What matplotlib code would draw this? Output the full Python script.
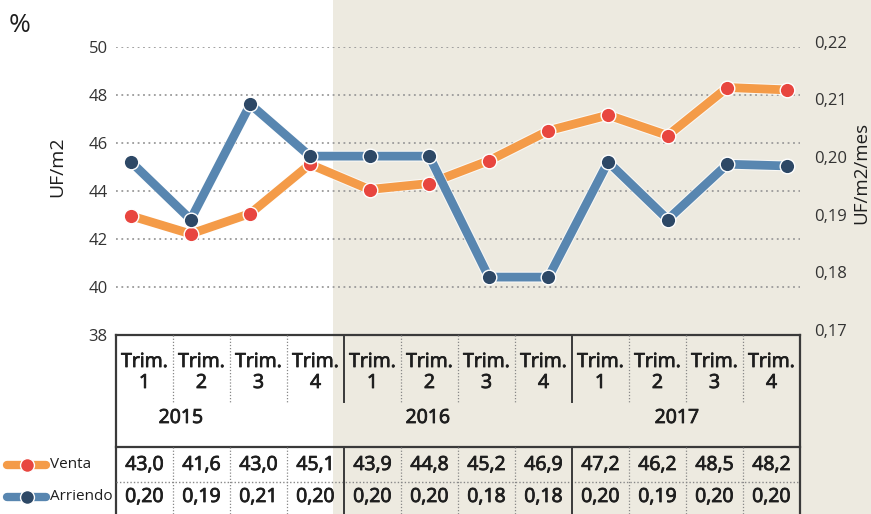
import numpy as np
import matplotlib.pyplot as plt
import matplotlib.patheffects as pe
from matplotlib.patches import Rectangle
from matplotlib.transforms import ScaledTranslation

plt.rcParams['font.family'] = ['Open Sans', 'DejaVu Sans']

# datos
trimestres = ['1', '2', '3', '4'] * 3
anios = ['2015', '2016', '2017']
venta = [42.95, 42.2, 43.05, 45.1, 44.05, 44.3, 45.25, 46.5, 47.15, 46.3, 48.3, 48.2]
arriendo = [0.200, 0.190, 0.210, 0.201, 0.201, 0.201, 0.180, 0.180, 0.200, 0.190, 0.1996, 0.1993]
venta_tabla = [43.0, 41.6, 43.0, 45.1, 43.9, 44.8, 45.2, 46.9, 47.2, 46.2, 48.5, 48.2]
arriendo_tabla = [0.20, 0.19, 0.21, 0.20, 0.20, 0.20, 0.18, 0.18, 0.20, 0.19, 0.20, 0.20]
ticks_izq = [38, 40, 42, 44, 46, 48, 50]
ticks_der = [0.17, 0.18, 0.19, 0.20, 0.21, 0.22]

C_NARANJA = '#F49B48'
C_ROJO = '#E8463F'
C_AZUL = '#5886B0'
C_AZUL_OSC = '#2D4866'
C_FONDO = '#EDEAE0'
C_TXT = '#1e1e1e'

W, H = 871, 514
fig = plt.figure(figsize=(W / 100, H / 100), dpi=100, facecolor='white')

# fondo beige a la derecha
fig.patches.append(Rectangle((333 / W, 0), 1 - 333 / W, 1, transform=fig.transFigure,
                             facecolor=C_FONDO, edgecolor='none', zorder=-1))

def coma(v, d):
    return f'{v:.{d}f}'.replace('.', ',')

# --- tabla y textos en coordenadas de pixel ---
tab = fig.add_axes([0, 0, 1, 1])
tab.set_xlim(0, W)
tab.set_ylim(H, 0)
tab.axis('off')
tab.patch.set_alpha(0)

x0, cw = 116, 57
x1 = x0 + cw * 12
lc = '#3a3a3a'
tab.plot([x0, x1], [335, 335], color=lc, lw=1.6)
tab.plot([x0, x1], [447, 447], color=lc, lw=1.6)
tab.plot([x0, x0], [335, H], color=lc, lw=1.6)
tab.plot([x1, x1], [335, H], color=lc, lw=1.6)
tab.plot([x0, x1], [482, 482], color='#888888', lw=1, ls=(0, (1, 1.5)))
for k in range(1, 12):
    xb = x0 + cw * k
    for ya, yb in [(335, 402), (447, H)]:
        if k % 4 == 0:
            tab.plot([xb, xb], [ya, yb], color=lc, lw=1.4)
        else:
            tab.plot([xb, xb], [ya, yb], color='#888888', lw=0.9, ls=(0, (1, 1.5)))

# texto un poco mas grueso
grueso = [pe.withStroke(linewidth=0.6, foreground=C_TXT)]
fs_tab = 14
for i in range(12):
    xc = x0 + cw * (i + 0.5)
    for yt, s in [(362, 'Trim.'), (383, trimestres[i]),
                  (465, coma(venta_tabla[i], 1)), (497, coma(arriendo_tabla[i], 2))]:
        tab.text(xc, yt, s, ha='center', va='center', fontsize=fs_tab, color=C_TXT,
                 path_effects=grueso)

for a, xa in zip(anios, [181, 428, 677]):
    tab.text(xa, 418, a, ha='center', va='center', fontsize=fs_tab, color=C_TXT, path_effects=grueso)

# leyenda
for yl, lcol, mcol, nombre in [(465, C_NARANJA, C_ROJO, 'Venta'), (497, C_AZUL, C_AZUL_OSC, 'Arriendo')]:
    tab.plot([7, 46], [yl, yl], color=lcol, lw=6, solid_capstyle='round')
    tab.plot([27], [yl], 'o', ms=10, color=mcol, mec='white', mew=1)
    tab.text(50, yl, nombre, ha='left', va='center', fontsize=11, color=C_TXT)

tab.text(20, 25, '%', ha='center', va='center', fontsize=19, color=C_TXT)
tab.text(57, 167, 'UF/m2', ha='center', va='center', rotation=90, fontsize=14, color=C_TXT)
tab.text(861, 173, 'UF/m2/mes', ha='center', va='center', rotation=90, fontsize=13.5, color=C_TXT)

# --- grafico de lineas ---
ax_l, ax_r, ax_t, ax_b = 116, 800, 46.7, 334.7
ax = fig.add_axes([ax_l / W, 1 - ax_b / H, (ax_r - ax_l) / W, (ax_b - ax_t) / H])
ax.patch.set_alpha(0)
p0, p1 = 131, 787
rng = 11 * (ax_r - ax_l) / (p1 - p0)
xlo = -(p0 - ax_l) / (ax_r - ax_l) * rng
ax.set_xlim(xlo, xlo + rng)
ax.set_ylim(38, 50)
x = np.arange(12)

borde = [pe.Stroke(linewidth=7.8, foreground='white', alpha=0.7), pe.Normal()]
ax.plot(x, venta, color=C_NARANJA, lw=6.3, path_effects=borde, zorder=3)
ax.plot(x, venta, 'o', ms=10.5, color=C_ROJO, mec='white', mew=1, zorder=4)

for yv in ticks_izq[1:]:
    ax.axhline(yv, color='#9a9a9a', lw=1.3, ls=(0, (1, 2)), zorder=1)
ax.set_yticks(ticks_izq)
ax.set_xticks([])
ax.tick_params(axis='y', length=0, pad=6, labelsize=12, labelcolor='#333333')
for s in ax.spines.values():
    s.set_visible(False)

ax2 = ax.twinx()
ax2.set_ylim(0.17, 0.22)
ax2.plot(x, arriendo, color=C_AZUL, lw=6.3, path_effects=borde, zorder=3)
ax2.plot(x, arriendo, 'o', ms=10.5, color=C_AZUL_OSC, mec='white', mew=1, zorder=4)
ax2.set_yticks(ticks_der)
ax2.set_yticklabels([coma(t, 2) for t in ticks_der])
ax2.tick_params(axis='y', length=0, pad=10, labelsize=12, labelcolor='#333333')
for lab in ax2.get_yticklabels():
    lab.set_transform(lab.get_transform() + ScaledTranslation(0, 5 / 100, fig.dpi_scale_trans))
for s in ax2.spines.values():
    s.set_visible(False)

plt.savefig('out.png', dpi=100)
